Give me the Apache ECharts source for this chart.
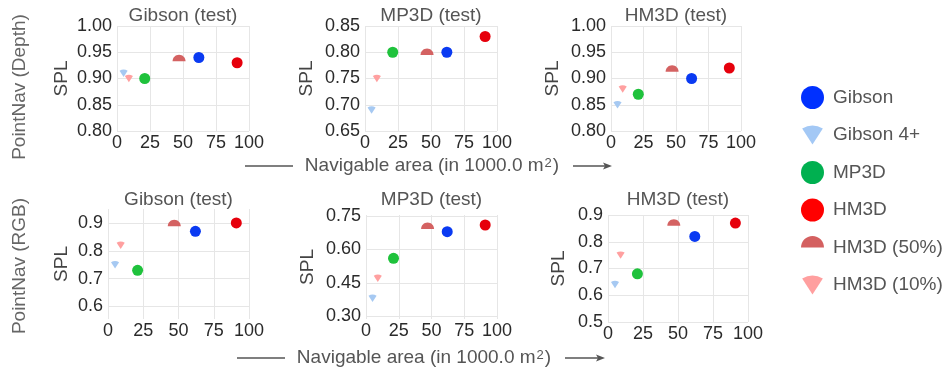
<!DOCTYPE html>
<html>
<head>
<meta charset="utf-8">
<script src="https://cdn.jsdelivr.net/npm/echarts@6/dist/echarts.min.js"></script>
<style>
  html, body { margin: 0; padding: 0; background: #fff; }
  #chart { width: 948px; height: 371px; }
</style>
</head>
<body>
<div id="chart"></div>
<script>
// methods (training sets) and their navigable area, 1000 m^2
const methods = ['Gibson', 'Gibson 4+', 'MP3D', 'HM3D', 'HM3D (50%)', 'HM3D (10%)'];
const navArea = [62, 5, 21, 91, 47, 9];

// SPL per test set, same order as methods
const depthGibson = [0.94, 0.91, 0.90, 0.93, 0.933, 0.90];
const depthMP3D = [0.80, 0.69, 0.80, 0.83, 0.795, 0.75];
const depthHM3D = [0.90, 0.85, 0.87, 0.92, 0.913, 0.88];
const rgbGibson = [0.87, 0.75, 0.73, 0.90, 0.888, 0.82];
const rgbMP3D = [0.68, 0.38, 0.56, 0.71, 0.692, 0.47];
const rgbHM3D = [0.82, 0.64, 0.68, 0.87, 0.86, 0.75];

const testSets = ['Gibson (test)', 'MP3D (test)', 'HM3D (test)'];
const rowLabels = ['PointNav (Depth)', 'PointNav (RGB)'];

// tick labels
const xTicks = [0, 25, 50, 75, 100];
const yTicksDepthGibson = [0.80, 0.85, 0.90, 0.95, 1.00];
const yTicksDepthMP3D = [0.65, 0.70, 0.75, 0.80, 0.85];
const yTicksDepthHM3D = [0.80, 0.85, 0.90, 0.95, 1.00];
const yTicksRgbGibson = [0.6, 0.7, 0.8, 0.9];
const yTicksRgbMP3D = [0.30, 0.45, 0.60, 0.75];
const yTicksRgbHM3D = [0.5, 0.6, 0.7, 0.8, 0.9];

const FONT = "'Liberation Sans', Arial, sans-serif";

const colors = ['#0a3af2', '#a6c9f2', '#1fc23c', '#e6000c', '#d46262', '#ffa0a0'];
const legendColors = ['#0030ff', '#a3c8f5', '#00b050', '#ff0000', '#d46060', '#ff9f9f'];

// upper half of a circle, flat side on the point (square box)
const halfCircle = 'path://M0,10 C0,4.477 4.477,0 10,0 C15.523,0 20,4.477 20,10 Z M0,20';
// downward wedge (circle sector), padded to a square box
const wedge = 'path://M-1.15,-2 M21.85,21 M10.35,19 L0,3 Q10.35,-3 20.7,3 Z';
const symbols = ['circle', wedge, 'circle', 'circle', halfCircle, wedge];
const symbolSizes = [11, 9, 11, 11, 13, 9];

const panels = [
  { values: depthGibson, ticks: yTicksDepthGibson, min: 0.8, max: 1.0, dec: 2,
    grid: { left: 117, top: 26, width: 132, height: 105 }, nameGap: 46 },
  { values: depthMP3D, ticks: yTicksDepthMP3D, min: 0.65, max: 0.85, dec: 2,
    grid: { left: 365, top: 26, width: 132, height: 105 }, nameGap: 49 },
  { values: depthHM3D, ticks: yTicksDepthHM3D, min: 0.8, max: 1.0, dec: 2,
    grid: { left: 611, top: 26, width: 130, height: 105 }, nameGap: 49 },
  { values: rgbGibson, ticks: yTicksRgbGibson, min: 0.555, max: 0.95, dec: 1,
    grid: { left: 108, top: 209, width: 141, height: 110 }, nameGap: 37 },
  { values: rgbMP3D, ticks: yTicksRgbMP3D, min: 0.287, max: 0.755, dec: 2,
    grid: { left: 366, top: 215, width: 131, height: 104 }, nameGap: 49 },
  { values: rgbHM3D, ticks: yTicksRgbHM3D, min: 0.5, max: 0.9, dec: 1,
    grid: { left: 608, top: 215, width: 140, height: 107 }, nameGap: 40 }
];

const gridLine = { show: true, lineStyle: { color: '#e6e6e6', width: 1 } };

const grids = panels.map(p => p.grid);

const xAxes = panels.map((p, i) => ({
  type: 'value',
  gridIndex: i,
  min: 0,
  max: 100,
  axisLine: { show: false },
  axisTick: { show: false, customValues: xTicks },
  splitLine: gridLine,
  axisLabel: {
    customValues: xTicks,
    margin: 3,
    fontSize: 18,
    fontFamily: FONT,
    color: '#2a2a2a'
  }
}));

const yAxes = panels.map((p, i) => ({
  type: 'value',
  gridIndex: i,
  min: p.min,
  max: p.max,
  name: 'SPL',
  nameLocation: 'middle',
  nameRotate: 90,
  nameGap: p.nameGap,
  nameTextStyle: { fontSize: 19, fontFamily: FONT, color: '#444' },
  axisLine: { show: false },
  axisTick: { show: false, customValues: p.ticks },
  splitLine: gridLine,
  axisLabel: {
    customValues: p.ticks,
    margin: 5,
    fontSize: 18,
    fontFamily: FONT,
    color: '#2a2a2a',
    formatter: v => Number(v).toFixed(p.dec)
  }
}));

const titles = panels.map((p, i) => ({
  text: testSets[i % 3],
  left: p.grid.left + p.grid.width / 2,
  top: i < 3 ? 6 : 190,
  textAlign: 'center',
  padding: 0,
  textStyle: { fontSize: 19, fontWeight: 'normal', fontFamily: FONT, color: '#555' }
}));

const series = [];
panels.forEach((p, gi) => {
  methods.forEach((m, mi) => {
    series.push({
      name: m,
      type: 'scatter',
      xAxisIndex: gi,
      yAxisIndex: gi,
      symbol: symbols[mi],
      symbolSize: symbolSizes[mi],
      itemStyle: { color: colors[mi], opacity: 1 },
      data: [[navArea[mi], p.values[mi]]]
    });
  });
});

function axisNote(cx, y, x0, x1, a0, a1) {
  const c = '#555';
  return [
    { type: 'line', shape: { x1: x0, y1: y, x2: x1, y2: y }, style: { stroke: c, lineWidth: 1.4 } },
    { type: 'text', x: cx, y: y,
      style: {
        text: '{a|Navigable area (in 1000.0 m}{s|2}{a|)}',
        align: 'center', verticalAlign: 'middle',
        rich: {
          a: { fontSize: 19, fontFamily: FONT, fill: c, color: c },
          s: { fontSize: 13, fontFamily: FONT, fill: c, color: c, verticalAlign: 'top', padding: [0, 1, 0, 1] }
        }
      } },
    { type: 'line', shape: { x1: a0, y1: y, x2: a1 - 6, y2: y }, style: { stroke: c, lineWidth: 1.4 } },
    { type: 'polygon', shape: { points: [[a1 - 9, y - 3.5], [a1, y], [a1 - 9, y + 3.5], [a1 - 7, y]] }, style: { fill: c } }
  ];
}

const graphic = [
  { type: 'text', x: 20, y: 87, rotation: Math.PI / 2,
    style: { text: rowLabels[0], fill: '#666', font: '19px ' + FONT, align: 'center', verticalAlign: 'middle' } },
  { type: 'text', x: 20, y: 266, rotation: Math.PI / 2,
    style: { text: rowLabels[1], fill: '#666', font: '19px ' + FONT, align: 'center', verticalAlign: 'middle' } },
  ...axisNote(432, 166, 245, 293, 573, 612),
  ...axisNote(424, 358, 237, 285, 565, 605)
];

const chart = echarts.init(document.getElementById('chart'), null, { renderer: 'canvas' });
chart.setOption({
  animation: false,
  backgroundColor: '#fff',
  title: titles,
  grid: grids,
  xAxis: xAxes,
  yAxis: yAxes,
  legend: {
    orient: 'vertical',
    left: 801,
    top: 86,
    padding: 0,
    itemWidth: 23,
    itemHeight: 23,
    itemGap: 14.5,
    textStyle: { fontSize: 19, fontFamily: FONT, color: '#555', padding: [0, 0, 0, 4] },
    data: methods.map((m, i) => ({ name: m, icon: symbols[i], itemStyle: { color: legendColors[i] } }))
  },
  graphic: graphic,
  series: series
});
</script>
</body>
</html>
